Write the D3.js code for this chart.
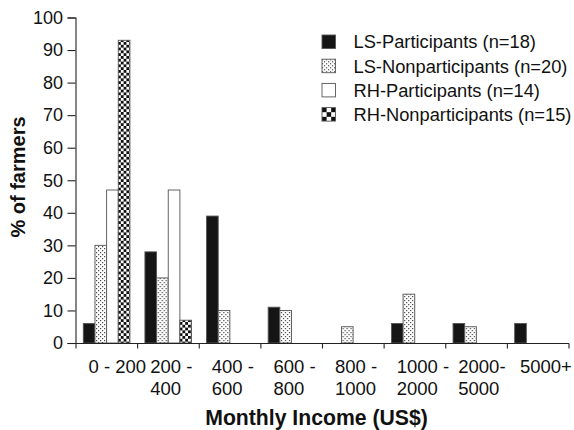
<!DOCTYPE html>
<html>
<head>
<meta charset="utf-8">
<script src="https://cdn.jsdelivr.net/npm/d3@7"></script>
<style>
  html, body { margin: 0; padding: 0; background: #fff; }
  svg { display: block; font-family: "Liberation Sans", Arial, Helvetica, sans-serif; }
</style>
</head>
<body>
<svg id="chart" width="574" height="430"></svg>
<script>
// Income classes (x axis), each label may wrap onto two lines
const categories = ["0 - 200", "200 - 400", "400 - 600", "600 - 800", "800 - 1000", "1000 - 2000", "2000- 5000", "5000+"];
const categoryLines = [["0 - 200"], ["200 -", "400"], ["400 -", "600"], ["600 -", "800"], ["800 -", "1000"], ["1000 -", "2000"], ["2000-", "5000"], ["5000+"]];

// Share of farmers (%) per income class
const lsParticipants    = [6, 28, 39, 11, 0, 6, 6, 6];
const lsNonparticipants = [30, 20, 10, 10, 5, 15, 5, 0];
const rhParticipants    = [47, 47, 0, 0, 0, 0, 0, 0];
const rhNonparticipants = [93, 7, 0, 0, 0, 0, 0, 0];

const seriesNames = ["LS-Participants (n=18)", "LS-Nonparticipants (n=20)", "RH-Participants (n=14)", "RH-Nonparticipants (n=15)"];
const seriesValues = [lsParticipants, lsNonparticipants, rhParticipants, rhNonparticipants];
const yTicks = [0, 10, 20, 30, 40, 50, 60, 70, 80, 90, 100];

const svg = d3.select("#chart");
const plotL = 76, plotR = 569, plotT = 17.5, plotB = 343;

// Fill patterns
const defs = svg.append("defs");
const dots = defs.append("pattern").attr("id", "dots").attr("patternUnits", "userSpaceOnUse")
  .attr("width", 4).attr("height", 4);
dots.append("rect").attr("width", 4).attr("height", 4).attr("fill", "#fff");
dots.append("rect").attr("x", 0).attr("y", 0).attr("width", 1.2).attr("height", 1.2).attr("fill", "#444");
dots.append("rect").attr("x", 2).attr("y", 2).attr("width", 1.2).attr("height", 1.2).attr("fill", "#444");

function checker(id, s) {
  const p = defs.append("pattern").attr("id", id).attr("patternUnits", "userSpaceOnUse")
    .attr("width", 2 * s).attr("height", 2 * s);
  p.append("rect").attr("width", 2 * s).attr("height", 2 * s).attr("fill", "#fff");
  p.append("rect").attr("width", s).attr("height", s).attr("fill", "#111");
  p.append("rect").attr("x", s).attr("y", s).attr("width", s).attr("height", s).attr("fill", "#111");
}
checker("checks", 2.8);
checker("checksBig", 4.6);

const fills = ["#151515", "url(#dots)", "#fff", "url(#checks)"];
const legendFills = ["#151515", "url(#dots)", "#fff", "url(#checksBig)"];

const x = d3.scaleBand().domain(categories).range([plotL, plotR]).paddingInner(0).paddingOuter(0);
const inner = d3.scaleBand().domain(d3.range(4)).range([7.3, x.bandwidth() - 7.7]).padding(0);
const y = d3.scaleLinear().domain([0, 100]).range([plotB, plotT]);

// Bars
const groups = svg.append("g").selectAll("g").data(categories).join("g")
  .attr("transform", d => `translate(${x(d)},0)`);
groups.selectAll("rect")
  .data((d, i) => seriesValues.map((vals, s) => ({ s, v: vals[i] })).filter(o => o.v > 0))
  .join("rect")
  .attr("x", d => inner(d.s))
  .attr("width", inner.bandwidth())
  .attr("y", d => y(d.v))
  .attr("height", d => y(0) - y(d.v))
  .attr("fill", d => fills[d.s])
  .attr("stroke", "#555")
  .attr("stroke-width", 0.9);

// Y axis
const yAxis = svg.append("g").attr("transform", `translate(${plotL - 0.5},0)`)
  .call(d3.axisLeft(y).tickValues(yTicks).tickSize(8).tickPadding(4.5));
yAxis.selectAll("text").attr("font-size", 18).attr("fill", "#111");
yAxis.selectAll("line, path").attr("stroke", "#222").attr("stroke-width", 1.1);

// X axis with ticks at band edges
const xAxisG = svg.append("g").attr("transform", `translate(0,${plotB + 0.5})`);
xAxisG.append("line").attr("x1", plotL - 0.5).attr("x2", plotR).attr("stroke", "#222").attr("stroke-width", 1.1);
const edges = categories.map(c => x(c)).concat([x(categories[categories.length - 1]) + x.bandwidth()]);
xAxisG.selectAll("line.tick").data(edges).join("line").attr("class", "tick")
  .attr("x1", d => d).attr("x2", d => d).attr("y1", 0).attr("y2", 5)
  .attr("stroke", "#222").attr("stroke-width", 1.1);

// Category labels, lines left-aligned inside each band
const labels = svg.append("g").selectAll("text").data(categories).join("text")
  .attr("text-anchor", "start").attr("font-size", 18.5).attr("fill", "#111")
  .attr("transform", d => `translate(${x(d) + 12.5},373)`);
labels.selectAll("tspan").data((d, i) => categoryLines[i]).join("tspan")
  .attr("x", 0).attr("dy", (d, i) => i === 0 ? 0 : 22).text(d => d);

// Axis titles
svg.append("text").attr("x", 316.5).attr("y", 425).attr("text-anchor", "middle")
  .attr("font-size", 21.2).attr("font-weight", "bold").attr("fill", "#111").text("Monthly Income (US$)");
svg.append("text").attr("transform", "translate(25,177) rotate(-90)").attr("text-anchor", "middle")
  .attr("font-size", 20).attr("font-weight", "bold").attr("fill", "#111").text("% of farmers");

// Legend
const legend = svg.append("g").attr("transform", "translate(322,35)");
const items = legend.selectAll("g").data(seriesNames).join("g")
  .attr("transform", (d, i) => `translate(0,${i * 24.2})`);
items.append("rect").attr("width", 13.5).attr("height", 13.5)
  .attr("fill", (d, i) => legendFills[i]).attr("stroke", "#555").attr("stroke-width", 0.9);
items.append("text").attr("x", 31.5).attr("y", 13.3).attr("font-size", 18.3).attr("fill", "#111").text(d => d);
</script>
</body>
</html>
